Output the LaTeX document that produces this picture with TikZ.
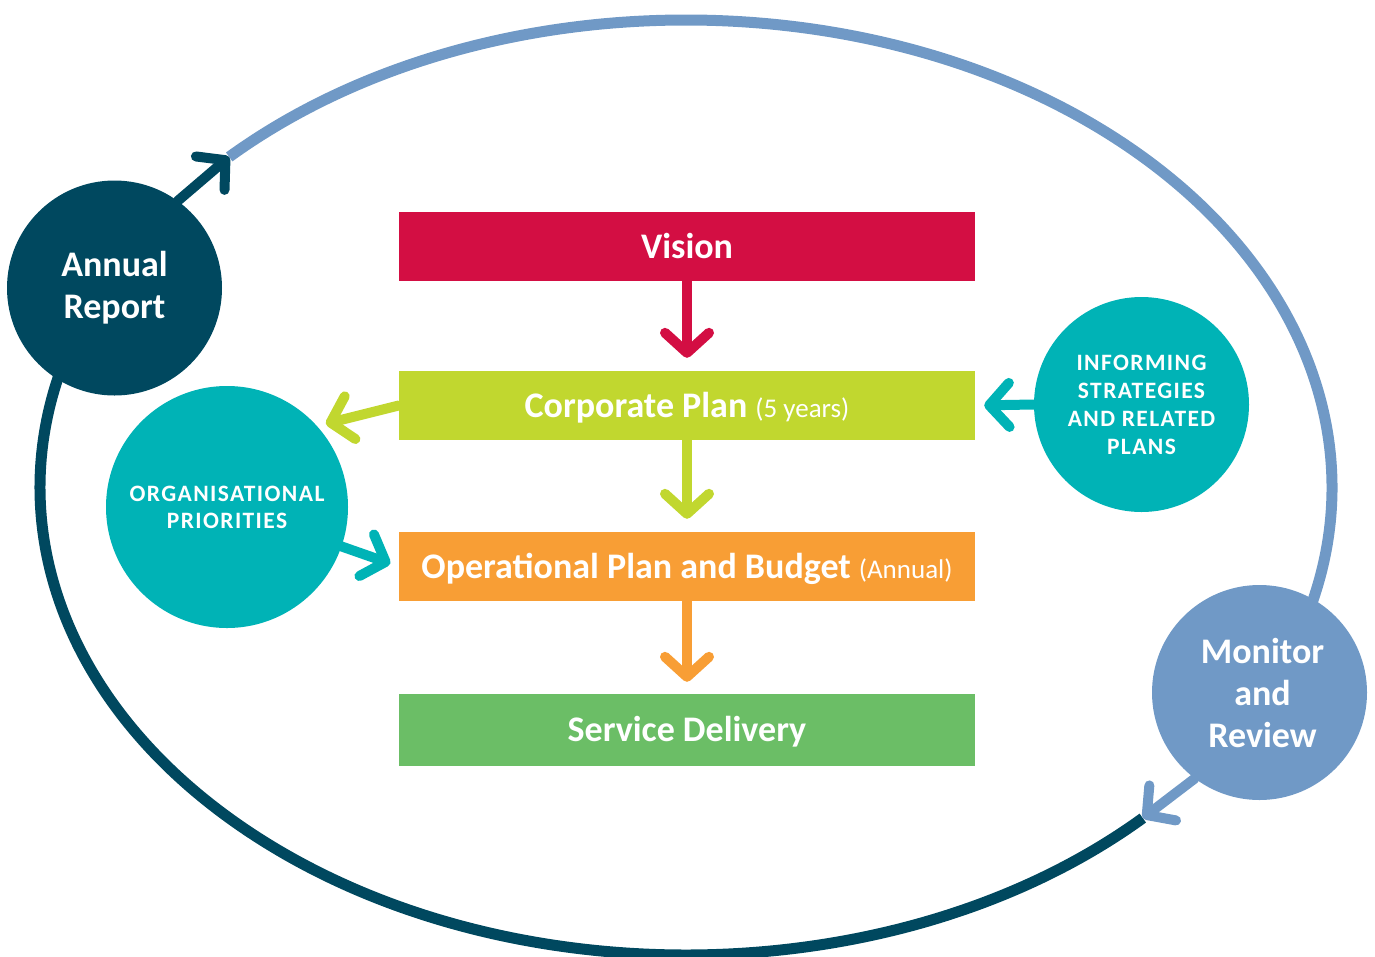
\documentclass[tikz,border=0pt]{standalone}
\usepackage{fontspec}
\setmainfont{Carlito}
\usetikzlibrary{arrows.meta}
\definecolor{visred}{HTML}{D30E43}
\definecolor{corplime}{HTML}{C1D72F}
\definecolor{oporange}{HTML}{F89E35}
\definecolor{servgreen}{HTML}{6BBE66}
\definecolor{tealc}{HTML}{00B3B6}
\definecolor{navyc}{HTML}{00485F}
\definecolor{lblue}{HTML}{7099C6}
\tikzset{
  planbox/.style={fill=#1, minimum width=576pt, minimum height=69pt, inner sep=0pt,
    text height=24pt, text depth=0.5pt,
    text=white, font=\bfseries\fontsize{36}{40}\selectfont},
  bigcirc/.style={circle, fill=#1, minimum size=215pt, inner sep=0pt, text=white,
    align=center, font=\bfseries\fontsize{36}{42}\selectfont},
  capcirc/.style={circle, fill=tealc, inner sep=0pt, text=white, align=center},
  flow/.style={draw=#1, line width=10pt, line cap=round,
    -{Straight Barb[length=20pt, width=44pt, round]}},
  ring/.style={draw=#1, line width=11pt}
}
\begin{document}
\begin{tikzpicture}[x=1pt, y=-1pt]
\useasboundingbox (0,0) rectangle (1375,956);
% outer cycle
\draw[ring=lblue] (686,487.5) ++(-135:646 and 467.5) coordinate (artip)
  arc[start angle=-135, end angle=20, x radius=646, y radius=467.5];
\draw[ring=navyc] (686,487.5) ++(45:646 and 467.5) coordinate (mrtip)
  arc[start angle=45, end angle=200, x radius=646, y radius=467.5];
% boxes
\node[planbox=visred] (vis) at (687,246.5) {Vision};
\node[planbox=corplime] (corp) at (687,405.5) {Corporate Plan {\mdseries\fontsize{27}{30}\selectfont (5 years)}};
\node[planbox=oporange] (op) at (687,566.5) {Operational Plan and Budget {\mdseries\fontsize{27}{30}\selectfont (Annual)}};
\node[planbox=servgreen, minimum height=72pt] (serv) at (687,730) {Service Delivery};
% circles
\node[bigcirc=navyc] (ar) at (114.5,288) {Annual\\Report};
\node[bigcirc=lblue] (mr) at (1259.5,692.5) {\hspace*{6pt}Monitor\\\hspace*{6pt}and\\\hspace*{6pt}Review};
\node[capcirc, minimum size=242pt, font=\bfseries\fontsize{23.5}{27}\selectfont\addfontfeature{LetterSpace=6}] (org) at (227,507) {ORGANISATIONAL\\PRIORITIES};
\node[capcirc, minimum size=215pt, font=\bfseries\fontsize{23.5}{28}\selectfont\addfontfeature{LetterSpace=6}] (inf) at (1141.5,404.5) {INFORMING\\STRATEGIES\\AND RELATED\\PLANS};
% connectors
\draw[flow=visred, shorten >=13pt] (vis.south) -- (corp.north);
\draw[flow=corplime, shorten >=13pt] (corp.south) -- (op.north);
\draw[flow=oporange, shorten >=12pt] (op.south) -- (serv.north);
\draw[flow=corplime, shorten >=9pt] (corp.west) -- (org.42);
\draw[flow=tealc, shorten >=9pt] (org.-19) -- (op.west);
\draw[flow=tealc, shorten >=9pt] (inf.west) -- (corp.east);
\draw[flow=navyc] (ar.54) -- (artip);
\draw[flow=lblue] (mr.233) -- (mrtip);
\end{tikzpicture}
\end{document}
